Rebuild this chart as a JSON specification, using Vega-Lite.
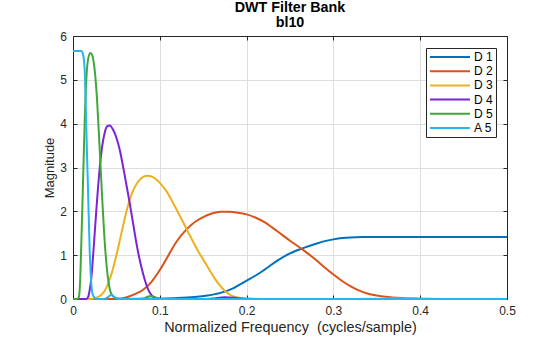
{
  "$schema": "https://vega.github.io/schema/vega-lite/v6.json",
  "autosize": {"type": "none"},
  "padding": {"left": 73, "top": 36, "right": 53, "bottom": 38},
  "width": 434,
  "height": 263,
  "background": "white",
  "title": {
    "text": ["DWT Filter Bank", "bl10"],
    "font": "Liberation Sans",
    "fontSize": 14.3,
    "fontWeight": "bold",
    "lineHeight": 14.3,
    "color": "#000000",
    "anchor": "middle",
    "frame": "group",
    "offset": 0
  },
  "config": {
    "view": {"stroke": null},
    "font": "Liberation Sans",
    "axis": {
      "labelFont": "Liberation Sans",
      "titleFont": "Liberation Sans",
      "labelColor": "#262626",
      "titleColor": "#262626",
      "domainColor": "#262626",
      "tickColor": "#262626",
      "gridColor": "#dedede",
      "gridOpacity": 1,
      "titleFontWeight": "normal",
      "labelFlush": false,
      "labelOverlap": false
    }
  },
  "data": {
    "values": [
      {"s": "D 1", "f": 0, "m": 0},
      {"s": "D 1", "f": 0.05, "m": 0.0005},
      {"s": "D 1", "f": 0.08, "m": 0.003},
      {"s": "D 1", "f": 0.1, "m": 0.008},
      {"s": "D 1", "f": 0.12, "m": 0.02},
      {"s": "D 1", "f": 0.14, "m": 0.045},
      {"s": "D 1", "f": 0.155, "m": 0.08},
      {"s": "D 1", "f": 0.17, "m": 0.14},
      {"s": "D 1", "f": 0.185, "m": 0.25},
      {"s": "D 1", "f": 0.2, "m": 0.42},
      {"s": "D 1", "f": 0.21, "m": 0.53},
      {"s": "D 1", "f": 0.22, "m": 0.66},
      {"s": "D 1", "f": 0.235, "m": 0.87},
      {"s": "D 1", "f": 0.25, "m": 1.04},
      {"s": "D 1", "f": 0.265, "m": 1.16},
      {"s": "D 1", "f": 0.28, "m": 1.26},
      {"s": "D 1", "f": 0.29, "m": 1.32},
      {"s": "D 1", "f": 0.3, "m": 1.36},
      {"s": "D 1", "f": 0.31, "m": 1.39},
      {"s": "D 1", "f": 0.32, "m": 1.405},
      {"s": "D 1", "f": 0.335, "m": 1.412},
      {"s": "D 1", "f": 0.35, "m": 1.414},
      {"s": "D 1", "f": 0.4, "m": 1.414},
      {"s": "D 1", "f": 0.45, "m": 1.414},
      {"s": "D 1", "f": 0.5, "m": 1.414},

      {"s": "D 2", "f": 0, "m": 0},
      {"s": "D 2", "f": 0.04, "m": 0},
      {"s": "D 2", "f": 0.05, "m": 0.005},
      {"s": "D 2", "f": 0.06, "m": 0.03},
      {"s": "D 2", "f": 0.07, "m": 0.1},
      {"s": "D 2", "f": 0.08, "m": 0.2},
      {"s": "D 2", "f": 0.09, "m": 0.38},
      {"s": "D 2", "f": 0.1, "m": 0.66},
      {"s": "D 2", "f": 0.11, "m": 1.0},
      {"s": "D 2", "f": 0.12, "m": 1.33},
      {"s": "D 2", "f": 0.13, "m": 1.57},
      {"s": "D 2", "f": 0.14, "m": 1.75},
      {"s": "D 2", "f": 0.15, "m": 1.87},
      {"s": "D 2", "f": 0.16, "m": 1.95},
      {"s": "D 2", "f": 0.17, "m": 1.99},
      {"s": "D 2", "f": 0.18, "m": 1.99},
      {"s": "D 2", "f": 0.19, "m": 1.97},
      {"s": "D 2", "f": 0.2, "m": 1.93},
      {"s": "D 2", "f": 0.21, "m": 1.86},
      {"s": "D 2", "f": 0.22, "m": 1.76},
      {"s": "D 2", "f": 0.235, "m": 1.55},
      {"s": "D 2", "f": 0.25, "m": 1.33},
      {"s": "D 2", "f": 0.265, "m": 1.12},
      {"s": "D 2", "f": 0.28, "m": 0.89},
      {"s": "D 2", "f": 0.29, "m": 0.72},
      {"s": "D 2", "f": 0.3, "m": 0.56},
      {"s": "D 2", "f": 0.31, "m": 0.41},
      {"s": "D 2", "f": 0.32, "m": 0.29},
      {"s": "D 2", "f": 0.33, "m": 0.19},
      {"s": "D 2", "f": 0.34, "m": 0.12},
      {"s": "D 2", "f": 0.35, "m": 0.08},
      {"s": "D 2", "f": 0.36, "m": 0.05},
      {"s": "D 2", "f": 0.38, "m": 0.02},
      {"s": "D 2", "f": 0.4, "m": 0.008},
      {"s": "D 2", "f": 0.42, "m": 0.002},
      {"s": "D 2", "f": 0.45, "m": 0},
      {"s": "D 2", "f": 0.5, "m": 0},

      {"s": "D 3", "f": 0, "m": 0},
      {"s": "D 3", "f": 0.02, "m": 0},
      {"s": "D 3", "f": 0.027, "m": 0.03},
      {"s": "D 3", "f": 0.033, "m": 0.1},
      {"s": "D 3", "f": 0.0385, "m": 0.26},
      {"s": "D 3", "f": 0.044, "m": 0.55},
      {"s": "D 3", "f": 0.05, "m": 1.0},
      {"s": "D 3", "f": 0.056, "m": 1.52},
      {"s": "D 3", "f": 0.0616, "m": 2.0},
      {"s": "D 3", "f": 0.0673, "m": 2.38},
      {"s": "D 3", "f": 0.073, "m": 2.62},
      {"s": "D 3", "f": 0.079, "m": 2.76},
      {"s": "D 3", "f": 0.0855, "m": 2.81},
      {"s": "D 3", "f": 0.092, "m": 2.78},
      {"s": "D 3", "f": 0.1, "m": 2.65},
      {"s": "D 3", "f": 0.108, "m": 2.45},
      {"s": "D 3", "f": 0.115, "m": 2.2},
      {"s": "D 3", "f": 0.123, "m": 1.9},
      {"s": "D 3", "f": 0.132, "m": 1.55},
      {"s": "D 3", "f": 0.142, "m": 1.17},
      {"s": "D 3", "f": 0.154, "m": 0.77},
      {"s": "D 3", "f": 0.165, "m": 0.42},
      {"s": "D 3", "f": 0.177, "m": 0.15},
      {"s": "D 3", "f": 0.188, "m": 0.04},
      {"s": "D 3", "f": 0.2, "m": 0.01},
      {"s": "D 3", "f": 0.22, "m": 0},
      {"s": "D 3", "f": 0.3, "m": 0},
      {"s": "D 3", "f": 0.34, "m": 0.005},
      {"s": "D 3", "f": 0.37, "m": 0.01},
      {"s": "D 3", "f": 0.4, "m": 0.005},
      {"s": "D 3", "f": 0.43, "m": 0},
      {"s": "D 3", "f": 0.5, "m": 0},

      {"s": "D 4", "f": 0, "m": 0},
      {"s": "D 4", "f": 0.015, "m": 0},
      {"s": "D 4", "f": 0.0173, "m": 0.04},
      {"s": "D 4", "f": 0.0192, "m": 0.2},
      {"s": "D 4", "f": 0.0212, "m": 0.5},
      {"s": "D 4", "f": 0.0231, "m": 0.97},
      {"s": "D 4", "f": 0.025, "m": 1.5},
      {"s": "D 4", "f": 0.0269, "m": 2.03},
      {"s": "D 4", "f": 0.0289, "m": 2.56},
      {"s": "D 4", "f": 0.0308, "m": 3.0},
      {"s": "D 4", "f": 0.0335, "m": 3.47},
      {"s": "D 4", "f": 0.0366, "m": 3.8},
      {"s": "D 4", "f": 0.0393, "m": 3.94},
      {"s": "D 4", "f": 0.0423, "m": 3.96},
      {"s": "D 4", "f": 0.0462, "m": 3.86},
      {"s": "D 4", "f": 0.05, "m": 3.68},
      {"s": "D 4", "f": 0.0539, "m": 3.4},
      {"s": "D 4", "f": 0.0577, "m": 3.02},
      {"s": "D 4", "f": 0.0616, "m": 2.6},
      {"s": "D 4", "f": 0.0654, "m": 2.18},
      {"s": "D 4", "f": 0.0692, "m": 1.73},
      {"s": "D 4", "f": 0.073, "m": 1.28},
      {"s": "D 4", "f": 0.0769, "m": 0.89},
      {"s": "D 4", "f": 0.0808, "m": 0.57},
      {"s": "D 4", "f": 0.0846, "m": 0.32},
      {"s": "D 4", "f": 0.0885, "m": 0.14},
      {"s": "D 4", "f": 0.093, "m": 0.04},
      {"s": "D 4", "f": 0.1, "m": 0.005},
      {"s": "D 4", "f": 0.11, "m": 0},
      {"s": "D 4", "f": 0.15, "m": 0},
      {"s": "D 4", "f": 0.16, "m": 0.01},
      {"s": "D 4", "f": 0.175, "m": 0.04},
      {"s": "D 4", "f": 0.19, "m": 0.02},
      {"s": "D 4", "f": 0.2, "m": 0.003},
      {"s": "D 4", "f": 0.21, "m": 0},
      {"s": "D 4", "f": 0.5, "m": 0},

      {"s": "D 5", "f": 0, "m": 0},
      {"s": "D 5", "f": 0.005, "m": 0},
      {"s": "D 5", "f": 0.0069, "m": 0.06},
      {"s": "D 5", "f": 0.0081, "m": 0.36},
      {"s": "D 5", "f": 0.0097, "m": 1.35},
      {"s": "D 5", "f": 0.0116, "m": 2.71},
      {"s": "D 5", "f": 0.0135, "m": 4.05},
      {"s": "D 5", "f": 0.0154, "m": 5.03},
      {"s": "D 5", "f": 0.0173, "m": 5.46},
      {"s": "D 5", "f": 0.02, "m": 5.61},
      {"s": "D 5", "f": 0.0223, "m": 5.55},
      {"s": "D 5", "f": 0.025, "m": 5.22},
      {"s": "D 5", "f": 0.0277, "m": 4.55},
      {"s": "D 5", "f": 0.0308, "m": 3.4},
      {"s": "D 5", "f": 0.0339, "m": 2.2},
      {"s": "D 5", "f": 0.0369, "m": 1.2},
      {"s": "D 5", "f": 0.04, "m": 0.52},
      {"s": "D 5", "f": 0.0431, "m": 0.17},
      {"s": "D 5", "f": 0.0462, "m": 0.06},
      {"s": "D 5", "f": 0.0492, "m": 0.02},
      {"s": "D 5", "f": 0.055, "m": 0},
      {"s": "D 5", "f": 0.078, "m": 0},
      {"s": "D 5", "f": 0.083, "m": 0.02},
      {"s": "D 5", "f": 0.088, "m": 0.065},
      {"s": "D 5", "f": 0.092, "m": 0.06},
      {"s": "D 5", "f": 0.097, "m": 0.02},
      {"s": "D 5", "f": 0.103, "m": 0},
      {"s": "D 5", "f": 0.5, "m": 0},

      {"s": "A 5", "f": 0, "m": 5.657},
      {"s": "A 5", "f": 0.005, "m": 5.657},
      {"s": "A 5", "f": 0.0095, "m": 5.655},
      {"s": "A 5", "f": 0.0108, "m": 5.63},
      {"s": "A 5", "f": 0.0123, "m": 5.5},
      {"s": "A 5", "f": 0.0135, "m": 5.2},
      {"s": "A 5", "f": 0.0154, "m": 3.85},
      {"s": "A 5", "f": 0.0173, "m": 2.48},
      {"s": "A 5", "f": 0.0192, "m": 1.12},
      {"s": "A 5", "f": 0.0208, "m": 0.44},
      {"s": "A 5", "f": 0.0223, "m": 0.13},
      {"s": "A 5", "f": 0.0246, "m": 0.03},
      {"s": "A 5", "f": 0.027, "m": 0},
      {"s": "A 5", "f": 0.036, "m": 0},
      {"s": "A 5", "f": 0.04, "m": 0.04},
      {"s": "A 5", "f": 0.044, "m": 0.09},
      {"s": "A 5", "f": 0.048, "m": 0.04},
      {"s": "A 5", "f": 0.052, "m": 0.005},
      {"s": "A 5", "f": 0.056, "m": 0},
      {"s": "A 5", "f": 0.5, "m": 0}
    ]
  },
  "layer": [
    {
      "mark": {"type": "line", "strokeWidth": 2, "interpolate": "monotone"},
      "encoding": {
        "x": {
          "field": "f",
          "type": "quantitative",
          "scale": {"domain": [0, 0.5], "nice": false, "zero": false},
          "axis": {
            "orient": "bottom",
            "values": [0, 0.1, 0.2, 0.3, 0.4, 0.5],
            "format": "~g",
            "grid": true,
            "tickSize": -4,
            "labelPadding": 10,
            "labelFontSize": 12,
            "title": "Normalized Frequency \u00a0(cycles/sample)",
            "titleFontSize": 14.4,
            "titlePadding": 4
          }
        },
        "y": {
          "field": "m",
          "type": "quantitative",
          "scale": {"domain": [0, 6], "nice": false},
          "axis": {
            "orient": "left",
            "values": [0, 1, 2, 3, 4, 5, 6],
            "format": "d",
            "grid": true,
            "tickSize": -4,
            "labelPadding": 10.5,
            "labelFontSize": 12,
            "title": "Magnitude",
            "titleFontSize": 13,
            "titlePadding": 3
          }
        },
        "color": {
          "field": "s",
          "type": "nominal",
          "sort": ["D 1", "D 2", "D 3", "D 4", "D 5", "A 5"],
          "scale": {
            "domain": ["D 1", "D 2", "D 3", "D 4", "D 5", "A 5"],
            "range": ["#0072BD", "#D95319", "#EDB120", "#7E22D8", "#40A83A", "#25B6EE"]
          },
          "legend": {
            "orient": "top-right",
            "offset": 11.5,
            "title": null,
            "symbolType": "stroke",
            "symbolSize": 1600,
            "symbolStrokeWidth": 2,
            "labelFont": "Liberation Sans",
            "labelFontSize": 12,
            "labelColor": "#000000",
            "labelOffset": 3,
            "padding": 3,
            "strokeColor": "#262626",
            "fillColor": "white",
            "cornerRadius": 0,
            "clipHeight": 12,
            "rowPadding": 2.2
          }
        }
      }
    },
    {
      "mark": {"type": "line", "opacity": 0},
      "encoding": {
        "x": {
          "field": "f",
          "type": "quantitative",
          "axis": {
            "orient": "top",
            "values": [0, 0.1, 0.2, 0.3, 0.4, 0.5],
            "labels": false,
            "grid": false,
            "tickSize": -4,
            "title": null
          }
        },
        "y": {
          "field": "m",
          "type": "quantitative",
          "axis": {
            "orient": "right",
            "values": [0, 1, 2, 3, 4, 5, 6],
            "labels": false,
            "grid": false,
            "tickSize": -4,
            "title": null
          }
        },
        "detail": {"field": "s"}
      }
    }
  ],
  "resolve": {"axis": {"x": "independent", "y": "independent"}}
}
